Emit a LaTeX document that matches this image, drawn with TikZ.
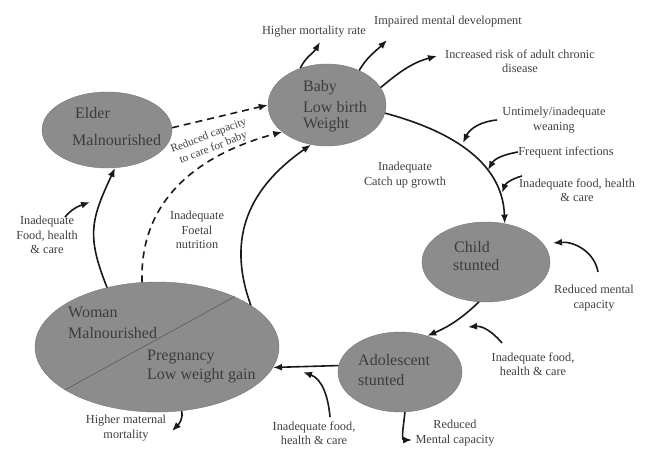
\documentclass[tikz,border=0pt]{standalone}
\usepackage{fontspec}
\setmainfont{Liberation Serif}
\usetikzlibrary{arrows.meta,shapes.geometric}
\definecolor{blobgray}{HTML}{8C8C8C}
\definecolor{intextgray}{HTML}{3C3C3C}
\definecolor{lblgray}{HTML}{404040}
\begin{document}
\begin{tikzpicture}[x=1pt,y=1pt,
  blob/.style={ellipse, fill=blobgray, draw=blobgray!85!black, line width=0.4pt, inner sep=0pt},
  intext/.style={font=\fontsize{16}{19}\selectfont, text=intextgray, anchor=west, inner sep=0pt},
  lbl/.style={font=\fontsize{12.3}{14.5}\selectfont, text=lblgray, align=center, inner sep=0pt},
  arr/.style={line width=1.6pt, draw=black!90, -{Latex[length=9pt,width=7pt]}},
  darr/.style={arr, dash pattern=on 7pt off 5pt}]
\useasboundingbox (0,0) rectangle (648,-451);
\fill[white] (0,0) rectangle (648,-451);

% ellipses
\node[blob, minimum width=130pt, minimum height=76pt] (elder) at (107,-130) {};
\node[blob, minimum width=118pt, minimum height=82pt] (baby) at (327,-105) {};
\node[blob, minimum width=128pt, minimum height=80pt] (child) at (486,-262) {};
\node[blob, minimum width=124pt, minimum height=80pt] (adol) at (400,-372) {};
\node[blob, minimum width=244pt, minimum height=130pt] (woman) at (157,-347) {};
\draw[line width=0.6pt, draw=black!65] (woman.205) -- (woman.33);

% ellipse texts
\node[intext] (t1) at (75,-113) {Elder};
\node[intext] (t2) at (72,-140) {Malnourished};
\node[intext] (t3) at (303,-88) {Baby};
\node[intext] (t4) at (303,-107) {Low birth};
\node[intext] (t5) at (303,-125) {Weight};
\node[intext] (t6) at (454,-247) {Child};
\node[intext] (t7) at (453,-265) {stunted};
\node[intext] (t8) at (358,-360) {Adolescent};
\node[intext] (t9) at (358,-380) {stunted};
\node[intext] (t10) at (68,-312) {Woman};
\node[intext] (t11) at (68,-333) {Malnourished};
\node[intext] (t12) at (147,-357) {Pregnancy};
\node[intext] (t13) at (147,-376) {Low weight gain};

% labels
\node[lbl] (lHM) at (314,-32) {Higher mortality rate};
\node[lbl] (lIMD) at (448,-22) {Impaired mental development};
\node[lbl] (lIRD) at (520,-61) {Increased risk of adult chronic\\disease};
\node[lbl] (lW) at (554,-120) {Untimely/inadequate\\weaning};
\node[lbl] (lF) at (566,-152) {Frequent infections};
\node[lbl] (lIFr) at (577,-190) {Inadequate food, health\\\& care};
\node[lbl] (lCU) at (405,-175) {Inadequate\\Catch up growth};
\node[lbl] (lRM) at (594,-298) {Reduced mental\\capacity};
\node[lbl] (lIA) at (533,-364) {Inadequate food,\\health \& care};
\node[lbl] (lIB) at (314,-433) {Inadequate food,\\health \& care};
\node[lbl] (lRA) at (455,-433) {Reduced\\Mental capacity};
\node[lbl] (lHMM) at (126,-428) {Higher maternal\\mortality};
\node[lbl] (lIL) at (47,-235) {Inadequate\\Food, health\\\& care};
\node[lbl] (lFN) at (197,-230) {Inadequate\\Foetal\\nutrition};
\node[lbl, font=\fontsize{11.3}{13}\selectfont, rotate=21] (lRC) at (211,-142) {Reduced capacity\\to care for baby};

% free ends
\coordinate (tHM) at (320,-42);
\coordinate (tIMD) at (387,-40);
\coordinate (tIRD) at (437,-56);
\coordinate (sW) at (497,-120);
\coordinate (tW) at (463,-143);
\coordinate (sF) at (518,-152);
\coordinate (tF) at (488,-170);
\coordinate (sIF) at (522,-176);
\coordinate (tIF) at (502,-193);
\coordinate (sRM) at (598,-272);
\coordinate (tRM) at (553,-243);
\coordinate (sIA) at (502,-343);
\coordinate (tIA) at (468,-327);
\coordinate (sIB) at (330,-417);
\coordinate (tIB) at (303,-372);
\coordinate (sIL) at (65,-217);
\coordinate (tIL) at (90,-202);
\coordinate (tRA) at (412,-440);
\coordinate (tHMM) at (172,-431);

% main cycle
\draw[arr] (baby.-8) to[out=-15,in=92] (child.64);
\draw[arr] (child.-100) to[bend left=10] (adol.53);
\draw[arr] (adol.174) -- (woman.-10);
\draw[arr] (woman.130) to[out=112,in=245,looseness=1.2] (elder.-78);
\draw[arr] (woman.24) to[out=110,in=215,looseness=1.1] (baby.248);
\draw[darr] (elder.2) -- (baby.180);
\draw[darr] (woman.103) to[out=92,in=195,looseness=1.05] (baby.211);

% side arrows
\draw[arr] (baby.126) to[out=65,in=240] (tHM);
\draw[arr] (baby.47) to[out=60,in=225] (tIMD);
\draw[arr] (baby.18) to[out=40,in=195] (tIRD);
\draw[arr] (sW) to[out=185,in=65] (tW);
\draw[arr] (sF) to[out=190,in=60] (tF);
\draw[arr] (sIF) to[out=195,in=70] (tIF);
\draw[arr] (sRM) to[out=100,in=5] (tRM);
\draw[arr] (sIA) to[out=130,in=5] (tIA);
\draw[arr] (sIB) to[out=95,in=340] (tIB);
\draw[arr] (sIL) to[out=50,in=200] (tIL);
\draw[arr] (adol.-83) to[out=-95,in=180] (tRA);
\draw[arr] (woman.-69) to[out=-75,in=45] (tHMM);
\end{tikzpicture}
\end{document}
